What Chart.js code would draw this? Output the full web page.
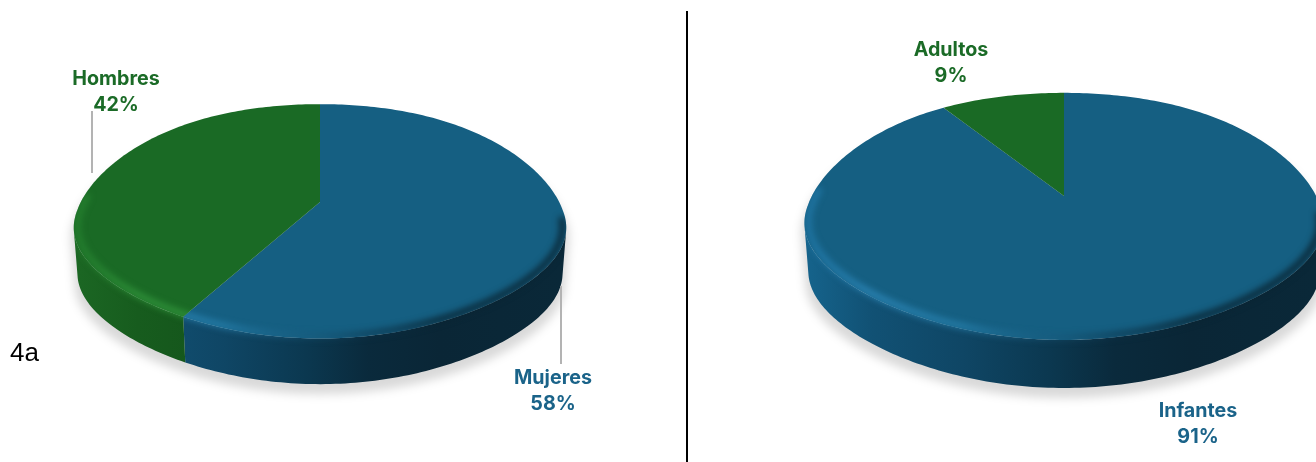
<!DOCTYPE html>
<html lang="es">
<head>
<meta charset="utf-8">
<title>Pasteles 4a</title>
<script src="https://cdn.jsdelivr.net/npm/chart.js@4"></script>
<style>
    html, body { margin: 0; padding: 0; background: #fff; }
    body { position: relative; width: 1316px; height: 462px; overflow: hidden; font-family: Inter, "Open Sans", sans-serif; }
    canvas { position: absolute; }
    #sexChart { left: 0; top: -38px; }
    #ageChart { left: 688px; top: -57px; }
    #divider { position: absolute; left: 686px; top: 11px; width: 2px; height: 451px; background: #000; }
    .leader { position: absolute; width: 2px; background: #b3b3b3; }
    #leaderHombres { left: 91px; top: 111px; height: 62px; }
    #leaderMujeres { left: 560px; top: 286px; height: 78px; }
    .tag { position: absolute; width: 140px; text-align: center; font-size: 19.7px; font-weight: 700; line-height: 26px; }
    .green { color: #1b6b27; }
    .blue { color: #1a6389; }
    #panelTag { position: absolute; left: 10px; top: 337px; font-family: "Liberation Sans", sans-serif; font-size: 26px; line-height: 30px; color: #000; }
</style>
</head>
<body>
<canvas id="sexChart" width="640" height="480"></canvas>
<canvas id="ageChart" width="752" height="506"></canvas>
<div id="divider"></div>
<div class="leader" id="leaderHombres"></div>
<div class="leader" id="leaderMujeres"></div>
<div id="panelTag">4a</div>
<script>
// values
const sexLabels = ['Mujeres', 'Hombres'];
const sexValues = [58, 42];
const ageLabels = ['Infantes', 'Adultos'];
const ageValues = [91, 9];

const blueLook = {
    face: '#155f82',
    side: ['#15628a', '#115174', '#0f4665', '#0b3850', '#0a2a3c', '#0a2636', '#0a2838'],
    rim: ['rgba(35,125,175,.7)', 'rgba(45,135,185,.85)', 'rgba(40,130,175,.75)', 'rgba(25,90,125,.4)', 'rgba(12,50,72,.6)', 'rgba(9,36,50,.9)', 'rgba(9,36,50,.9)']
};
const greenLook = {
    face: '#1a6a25',
    side: ['#1b6623', '#175c1e', '#14541b', '#14541b', '#14541b', '#14541b', '#14541b'],
    rim: ['rgba(40,135,50,.7)', 'rgba(50,150,60,.85)', 'rgba(50,150,60,.85)', 'rgba(50,150,60,.85)', 'rgba(50,150,60,.85)', 'rgba(50,150,60,.85)', 'rgba(50,150,60,.85)']
};
const gradientStops = [0, 0.12, 0.3, 0.47, 0.6, 0.75, 1];

// tilted view of the disc
const LEAN = -0.165;
const SQUASH = 0.475;
const DEPTH = 0.19;
const WIDEN = 1.012;
const LOWER_X = 0.985;
const SAG = 0.036;
const FLATTEN = 0.05;
const FRONT_V = 0.21;
const STEP = Math.PI / 180;

function project(arc, r, theta, lower) {
    const u = r * Math.sin(theta);
    const v = -r * Math.cos(theta);
    const d = 1 + LEAN * v;
    const R = arc.outerRadius;
    const bend = SAG * u * u * u * u - FLATTEN * u * u * Math.max(v, 0);
    return {
        x: arc.x + WIDEN * R * u / d * (lower ? LOWER_X : 1),
        y: arc.y + SQUASH * R * v / d + bend * R + (lower ? DEPTH * R : 0)
    };
}

function traceCurve(path, arc, r, from, to, lower) {
    const n = Math.max(1, Math.ceil(Math.abs(to - from) / STEP));
    for (let i = 0; i <= n; i++) {
        const p = project(arc, r, from + (to - from) * i / n, lower);
        path.lineTo(p.x, p.y);
    }
}

function sectorPath(arc, from, to) {
    const path = new Path2D();
    path.moveTo(arc.x, arc.y);
    traceCurve(path, arc, 1, from, to, false);
    path.closePath();
    return path;
}

function addSidePath(path, arc, from, to) {
    const firstPoint = project(arc, 1, from, true);
    path.moveTo(firstPoint.x, firstPoint.y);
    traceCurve(path, arc, 1, from, to, true);
    traceCurve(path, arc, 1, to, from, false);
    path.closePath();
}

function xGradient(ctx, arc, colors) {
    const g = ctx.createLinearGradient(arc.x - arc.outerRadius, 0, arc.x + arc.outerRadius, 0);
    gradientStops.forEach((stop, i) => g.addColorStop(stop, colors[i]));
    return g;
}

const discPlugin = {
    id: 'disc',
    beforeDatasetDraw(chart, args, options) {
        const ctx = chart.ctx;
        const arcs = chart.getDatasetMeta(args.index).data;
        const first = arcs[0];
        const frontStart = Math.acos(-FRONT_V);
        const frontEnd = 2 * Math.PI - frontStart;

        // soft ground shadow
        const shadow = new Path2D();
        for (let i = 0; i <= 360; i++) {
            const theta = i * STEP;
            const front = -Math.cos(theta) > FRONT_V;
            const p = project(first, 1, theta, front);
            shadow.lineTo(first.x + (p.x - first.x) * 1.012, p.y + 10);
        }
        shadow.closePath();
        ctx.save();
        ctx.filter = 'blur(5px)';
        ctx.fillStyle = 'rgba(0,0,0,0.15)';
        ctx.fill(shadow);
        ctx.restore();

        arcs.forEach((arc, i) => {
            const look = options.looks[i];
            const from = arc.startAngle + Math.PI / 2;
            const to = arc.endAngle + Math.PI / 2;
            const sideFrom = Math.max(from, frontStart);
            const sideTo = Math.min(to, frontEnd);
            const face = sectorPath(arc, from, to);
            const region = new Path2D(face);

            if (sideTo > sideFrom) {
                const side = new Path2D();
                addSidePath(side, arc, sideFrom, sideTo);
                ctx.fillStyle = xGradient(ctx, arc, look.side);
                ctx.fill(side);
                addSidePath(region, arc, sideFrom, sideTo);
            }

            ctx.fillStyle = arc.options.backgroundColor;
            ctx.fill(face);

            // bevel along the front rim, kept inside this slice
            ctx.save();
            ctx.clip(region);
            ctx.filter = 'blur(3px)';
            ctx.lineWidth = 0.026 * arc.outerRadius;
            ctx.strokeStyle = xGradient(ctx, arc, look.rim);
            const rim = new Path2D();
            traceCurve(rim, arc, 0.985, 94 * STEP, 278 * STEP, false);
            ctx.stroke(rim);
            ctx.restore();
        });
        return false; // the slices are painted above, in the tilted view
    }
};

function makePie(canvasId, labels, values, looks) {
    return new Chart(document.getElementById(canvasId), {
        type: 'pie',
        data: {
            labels: labels,
            datasets: [{
                data: values,
                backgroundColor: looks.map(look => look.face),
                borderWidth: 0
            }]
        },
        options: {
            responsive: false,
            animation: false,
            layout: { padding: 0 },
            plugins: {
                legend: { display: false },
                tooltip: { enabled: false },
                disc: { looks: looks }
            }
        },
        plugins: [discPlugin]
    });
}

makePie('sexChart', sexLabels, sexValues, [blueLook, greenLook]);
makePie('ageChart', ageLabels, ageValues, [blueLook, greenLook]);

// labels as page text
function addTag(label, value, cls, centerX, top) {
    const tag = document.createElement('div');
    tag.className = 'tag ' + cls;
    tag.style.left = (centerX - 70) + 'px';
    tag.style.top = top + 'px';
    tag.innerHTML = label + '<br>' + value + '%';
    document.body.appendChild(tag);
}

addTag(sexLabels[1], sexValues[1], 'green', 116, 65);
addTag(sexLabels[0], sexValues[0], 'blue', 553, 364);
addTag(ageLabels[1], ageValues[1], 'green', 951, 36);
addTag(ageLabels[0], ageValues[0], 'blue', 1198, 397);
</script>
</body>
</html>
